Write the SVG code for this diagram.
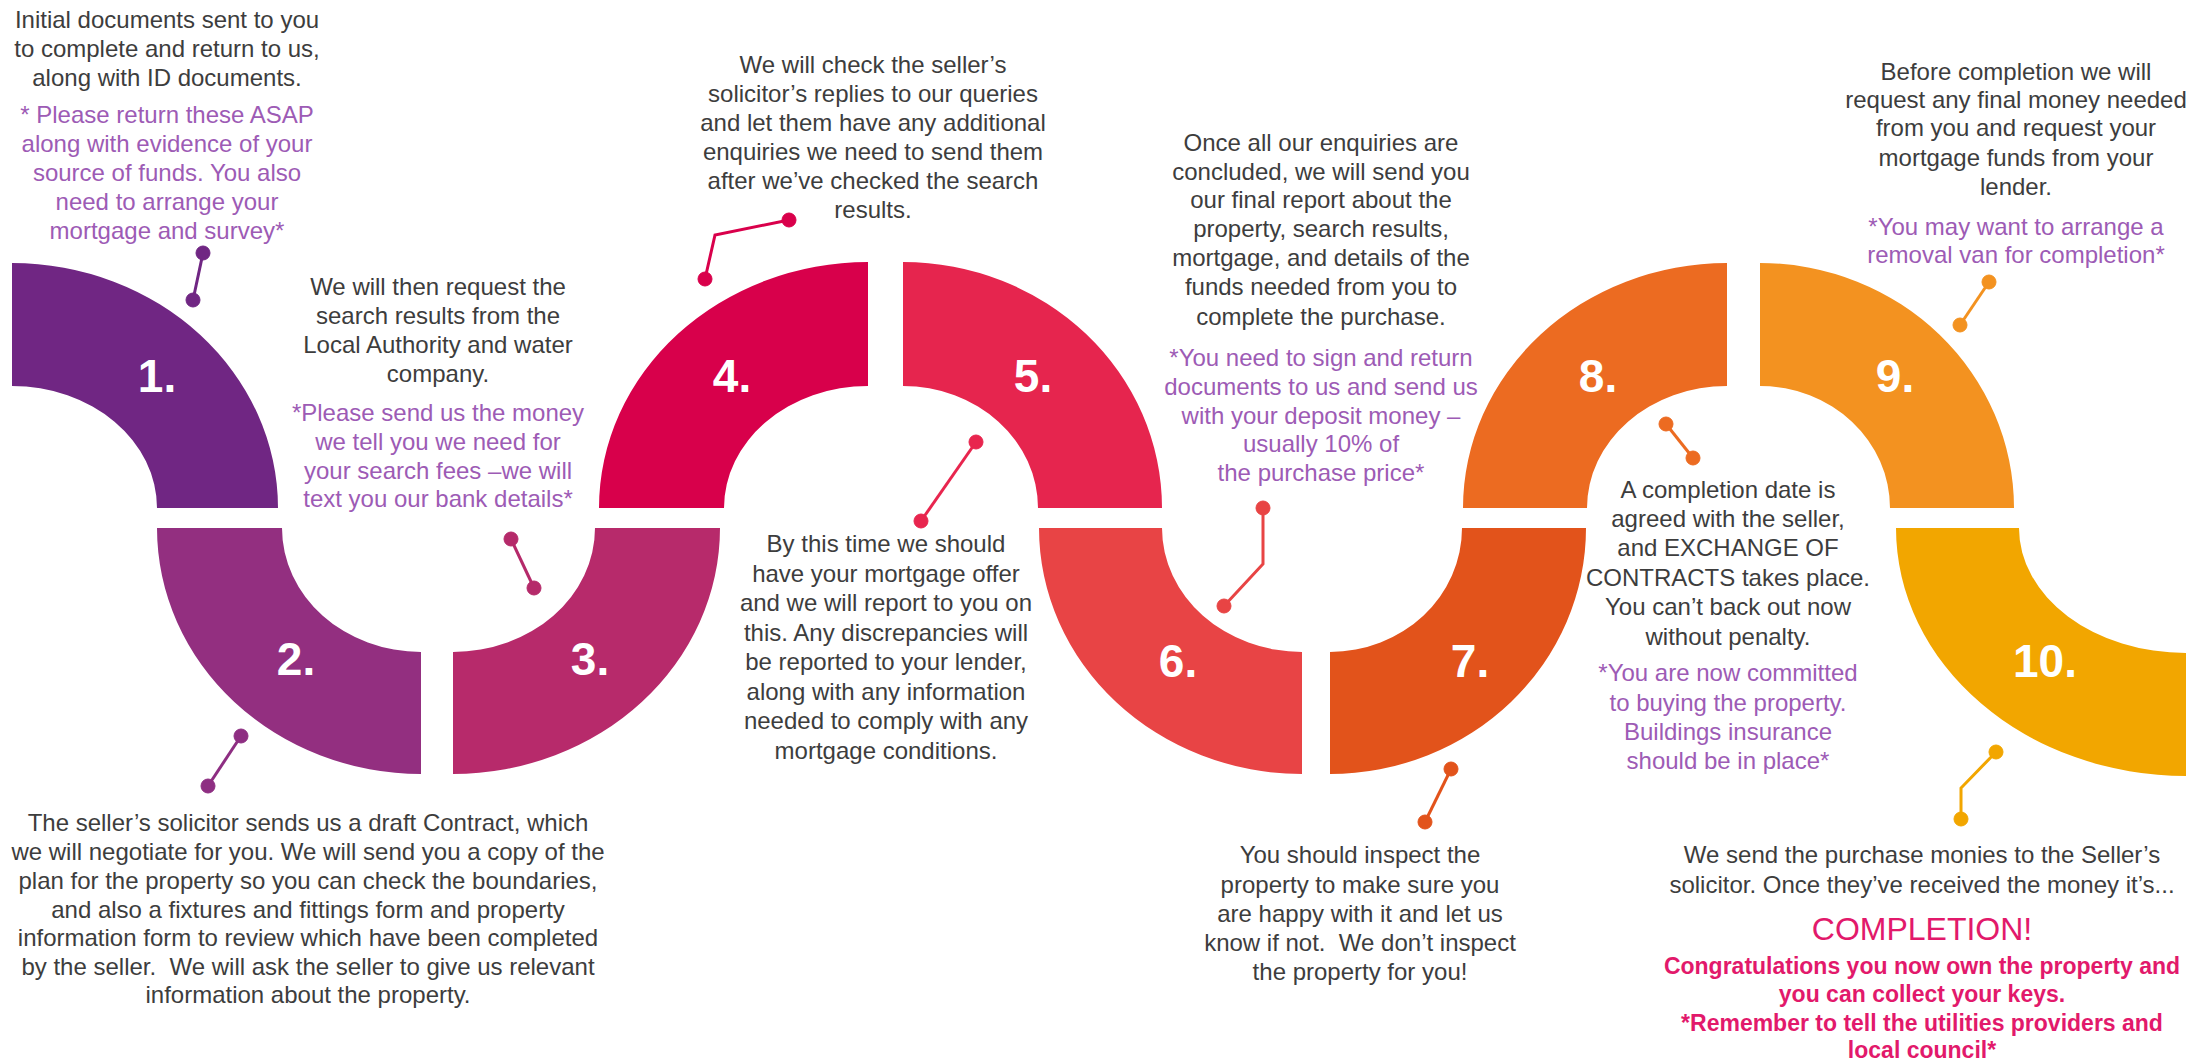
<svg xmlns="http://www.w3.org/2000/svg" width="2194" height="1062" viewBox="0 0 2194 1062">
<style>
.t{font-family:"Liberation Sans",Arial,sans-serif;font-size:24px;fill:#3d3d3d;text-anchor:middle}
.p{fill:#9d5bb5}
.k{fill:#e2196b;font-weight:bold;font-size:23px}
.big{fill:#e2196b;font-size:32px}
.num{font-family:"Liberation Sans",Arial,sans-serif;font-weight:bold;font-size:46px;fill:#fff;text-anchor:middle}
.cn{stroke-width:3;fill:none}
</style>
<rect width="2194" height="1062" fill="#fff"/>

<g id="step-1">
<path d="M12,263 A266,245 0 0 1 278,508 L157,508 A145,122 0 0 0 12,386 Z" fill="#702683"/>
<text class="num" x="157" y="392">1.</text>
<text class="t" x="167" y="28">Initial documents sent to you</text>
<text class="t" x="167" y="57">to complete and return to us,</text>
<text class="t" x="167" y="86">along with ID documents.</text>
<text class="t p" x="167" y="123">* Please return these ASAP</text>
<text class="t p" x="167" y="152">along with evidence of your</text>
<text class="t p" x="167" y="181">source of funds. You also</text>
<text class="t p" x="167" y="210">need to arrange your</text>
<text class="t p" x="167" y="239">mortgage and survey*</text>
</g>

<g id="step-2">
<path d="M157,528 L282,528 A139,124 0 0 0 421,652 L421,774 A264,246 0 0 1 157,528 Z" fill="#932f80"/>
<text class="num" x="296" y="675">2.</text>
<text class="t" x="308" y="831">The seller’s solicitor sends us a draft Contract, which</text>
<text class="t" x="308" y="860">we will negotiate for you. We will send you a copy of the</text>
<text class="t" x="308" y="889">plan for the property so you can check the boundaries,</text>
<text class="t" x="308" y="918">and also a fixtures and fittings form and property</text>
<text class="t" x="308" y="946">information form to review which have been completed</text>
<text class="t" x="308" y="975" xml:space="preserve">by the seller.  We will ask the seller to give us relevant</text>
<text class="t" x="308" y="1003">information about the property.</text>
</g>

<g id="step-3">
<path d="M453,652 A142,124 0 0 0 595,528 L720,528 A267,246 0 0 1 453,774 Z" fill="#b72a6b"/>
<text class="num" x="590" y="675">3.</text>
<text class="t" x="438" y="295">We will then request the</text>
<text class="t" x="438" y="324">search results from the</text>
<text class="t" x="438" y="353">Local Authority and water</text>
<text class="t" x="438" y="382">company.</text>
<text class="t p" x="438" y="421">*Please send us the money</text>
<text class="t p" x="438" y="450">we tell you we need for</text>
<text class="t p" x="438" y="479">your search fees –we will</text>
<text class="t p" x="438" y="507">text you our bank details*</text>
</g>

<g id="step-4">
<path d="M599,508 A269,246 0 0 1 868,262 L868,386 A144,122 0 0 0 724,508 Z" fill="#d8004b"/>
<text class="num" x="732" y="392">4.</text>
<text class="t" x="873" y="73">We will check the seller’s</text>
<text class="t" x="873" y="102">solicitor’s replies to our queries</text>
<text class="t" x="873" y="131">and let them have any additional</text>
<text class="t" x="873" y="160">enquiries we need to send them</text>
<text class="t" x="873" y="189">after we’ve checked the search</text>
<text class="t" x="873" y="218">results.</text>
</g>

<g id="step-5">
<path d="M903,262 A259,246 0 0 1 1162,508 L1038,508 A135,122 0 0 0 903,386 Z" fill="#e6254e"/>
<text class="num" x="1033" y="392">5.</text>
<text class="t" x="886" y="552">By this time we should</text>
<text class="t" x="886" y="582">have your mortgage offer</text>
<text class="t" x="886" y="611">and we will report to you on</text>
<text class="t" x="886" y="641">this. Any discrepancies will</text>
<text class="t" x="886" y="670">be reported to your lender,</text>
<text class="t" x="886" y="700">along with any information</text>
<text class="t" x="886" y="729">needed to comply with any</text>
<text class="t" x="886" y="759">mortgage conditions.</text>
</g>

<g id="step-6">
<path d="M1039,528 L1162,528 A140,124 0 0 0 1302,652 L1302,774 A263,246 0 0 1 1039,528 Z" fill="#e84445"/>
<text class="num" x="1178" y="677">6.</text>
<text class="t" x="1321" y="151">Once all our enquiries are</text>
<text class="t" x="1321" y="180">concluded, we will send you</text>
<text class="t" x="1321" y="208">our final report about the</text>
<text class="t" x="1321" y="237">property, search results,</text>
<text class="t" x="1321" y="266">mortgage, and details of the</text>
<text class="t" x="1321" y="295">funds needed from you to</text>
<text class="t" x="1321" y="325">complete the purchase.</text>
<text class="t p" x="1321" y="366">*You need to sign and return</text>
<text class="t p" x="1321" y="395">documents to us and send us</text>
<text class="t p" x="1321" y="424">with your deposit money –</text>
<text class="t p" x="1321" y="452">usually 10% of</text>
<text class="t p" x="1321" y="481">the purchase price*</text>
</g>

<g id="step-7">
<path d="M1330,652 A132,124 0 0 0 1462,528 L1586,528 A256,246 0 0 1 1330,774 Z" fill="#e2531b"/>
<text class="num" x="1470" y="677">7.</text>
<text class="t" x="1360" y="863">You should inspect the</text>
<text class="t" x="1360" y="893">property to make sure you</text>
<text class="t" x="1360" y="922">are happy with it and let us</text>
<text class="t" x="1360" y="951" xml:space="preserve">know if not.  We don’t inspect</text>
<text class="t" x="1360" y="980">the property for you!</text>
</g>

<g id="step-8">
<path d="M1463,508 A264,245 0 0 1 1727,263 L1727,386 A140,122 0 0 0 1587,508 Z" fill="#ec6b21"/>
<text class="num" x="1598" y="392">8.</text>
<text class="t" x="1728" y="498">A completion date is</text>
<text class="t" x="1728" y="527">agreed with the seller,</text>
<text class="t" x="1728" y="556">and EXCHANGE OF</text>
<text class="t" x="1728" y="586">CONTRACTS takes place.</text>
<text class="t" x="1728" y="615">You can’t back out now</text>
<text class="t" x="1728" y="645">without penalty.</text>
<text class="t p" x="1728" y="681">*You are now committed</text>
<text class="t p" x="1728" y="711">to buying the property.</text>
<text class="t p" x="1728" y="740">Buildings insurance</text>
<text class="t p" x="1728" y="769">should be in place*</text>
</g>

<g id="step-9">
<path d="M1760,263 A254,245 0 0 1 2014,508 L1890,508 A130,122 0 0 0 1760,386 Z" fill="#f39220"/>
<text class="num" x="1895" y="392">9.</text>
<text class="t" x="2016" y="80">Before completion we will</text>
<text class="t" x="2016" y="108">request any final money needed</text>
<text class="t" x="2016" y="136">from you and request your</text>
<text class="t" x="2016" y="166">mortgage funds from your</text>
<text class="t" x="2016" y="195">lender.</text>
<text class="t p" x="2016" y="235">*You may want to arrange a</text>
<text class="t p" x="2016" y="263">removal van for completion*</text>
</g>

<g id="step-10">
<path d="M1896,528 L2019,528 A167,125 0 0 0 2186,653 L2186,776 A290,248 0 0 1 1896,528 Z" fill="#f2a600"/>
<text class="num" x="2045" y="677">10.</text>
<text class="t" x="1922" y="863">We send the purchase monies to the Seller’s</text>
<text class="t" x="1922" y="893">solicitor. Once they’ve received the money it’s...</text>
<text class="t big" x="1922" y="940">COMPLETION!</text>
<text class="t k" x="1922" y="974">Congratulations you now own the property and</text>
<text class="t k" x="1922" y="1002">you can collect your keys.</text>
<text class="t k" x="1922" y="1031">*Remember to tell the utilities providers and</text>
<text class="t k" x="1922" y="1058">local council*</text>
</g>

<g id="connectors">
<g stroke="#702683" fill="#702683"><line class="cn" x1="203" y1="253" x2="193" y2="300"/><circle cx="203" cy="253" r="7"/><circle cx="193" cy="300" r="7"/></g>
<g stroke="#8e2e82" fill="#8e2e82"><line class="cn" x1="241" y1="736" x2="208" y2="786"/><circle cx="241" cy="736" r="7"/><circle cx="208" cy="786" r="7"/></g>
<g stroke="#b52a6a" fill="#b52a6a"><line class="cn" x1="511" y1="539" x2="534" y2="588"/><circle cx="511" cy="539" r="7"/><circle cx="534" cy="588" r="7"/></g>
<g stroke="#d9004b" fill="#d9004b"><polyline class="cn" points="789,220 715,235 705,279"/><circle cx="789" cy="220" r="7"/><circle cx="705" cy="279" r="7"/></g>
<g stroke="#e8254e" fill="#e8254e"><line class="cn" x1="976" y1="442" x2="921" y2="521"/><circle cx="976" cy="442" r="7"/><circle cx="921" cy="521" r="7"/></g>
<g stroke="#e84444" fill="#e84444"><polyline class="cn" points="1263,508 1263,564 1224,606"/><circle cx="1263" cy="508" r="7"/><circle cx="1224" cy="606" r="7"/></g>
<g stroke="#e2531b" fill="#e2531b"><line class="cn" x1="1451" y1="769" x2="1425" y2="822"/><circle cx="1451" cy="769" r="7"/><circle cx="1425" cy="822" r="7"/></g>
<g stroke="#ec6b21" fill="#ec6b21"><line class="cn" x1="1666" y1="424" x2="1693" y2="458"/><circle cx="1666" cy="424" r="7"/><circle cx="1693" cy="458" r="7"/></g>
<g stroke="#f39220" fill="#f39220"><line class="cn" x1="1989" y1="282" x2="1960" y2="325"/><circle cx="1989" cy="282" r="7"/><circle cx="1960" cy="325" r="7"/></g>
<g stroke="#f2a600" fill="#f2a600"><polyline class="cn" points="1996,752 1961,788 1961,819"/><circle cx="1996" cy="752" r="7"/><circle cx="1961" cy="819" r="7"/></g>
</g>
</svg>
